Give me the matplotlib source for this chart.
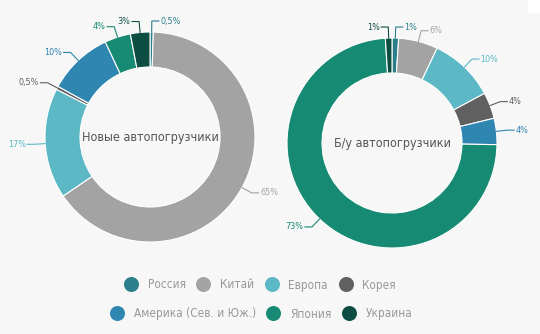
import numpy as np
import matplotlib.pyplot as plt
from matplotlib.lines import Line2D
from matplotlib.patches import Rectangle
from matplotlib import font_manager

# pick a narrow font if one is installed, else Roboto
fl = font_manager.fontManager.ttflist
stretch = 'normal'
if any(f.name == 'Liberation Sans Narrow' for f in fl):
    fam = 'Liberation Sans Narrow'
elif any(f.name == 'DejaVu Sans' and f.stretch == 'condensed' for f in fl):
    fam = 'DejaVu Sans'
    stretch = 'condensed'
else:
    fam = 'Roboto'
plt.rcParams['font.family'] = [fam, 'DejaVu Sans']
plt.rcParams['font.stretch'] = stretch

# data
countries = ['Россия', 'Китай', 'Европа', 'Корея', 'Америка (Сев. и Юж.)', 'Япония', 'Украина']
colors = ['#2a7f8a', '#a3a3a3', '#5cb8c4', '#606060', '#2e86b1', '#168a72', '#0e4e42']
new_share = [0.5, 65, 17, 0.5, 10, 4, 3]
used_share = [1, 6, 10, 4, 4, 73, 1]
titles = ['Новые автопогрузчики', 'Б/у автопогрузчики']

bg = '#f7f7f7'
fig = plt.figure(figsize=(5.4, 3.34), dpi=100, facecolor=bg)
ax = fig.add_axes([0, 0, 1, 1])
ax.set_facecolor(bg)

R = 105
W = 35
centers = [(150, 197), (392, 191)]


def donut(vals, center, title):
    wedges, _ = ax.pie(vals, colors=colors, startangle=90, counterclock=False,
                       center=center, radius=R,
                       wedgeprops=dict(width=W, edgecolor='white', linewidth=0.8))
    for w, v, c in zip(wedges, vals, colors):
        a = np.deg2rad((w.theta1 + w.theta2) / 2)
        x0 = center[0] + R * np.cos(a)
        y0 = center[1] + R * np.sin(a)
        x1 = center[0] + (R + 11) * np.cos(a)
        y1 = center[1] + (R + 11) * np.sin(a)
        s = 1 if np.cos(a) >= 0 else -1
        x2 = x1 + s * 7
        ax.plot([x0, x1, x2], [y0, y1, y1], color=c, lw=0.8)
        lab = f'{v:g}%'.replace('.', ',')
        ax.text(x2 + s * 1.5, y1, lab, color=c, fontsize=6.5,
                ha='left' if s > 0 else 'right', va='center')
    ax.text(center[0], center[1] - 1, title, ha='center', va='center',
            fontsize=9, color='#555555')


donut(new_share, centers[0], titles[0])
donut(used_share, centers[1], titles[1])

ax.set_xlim(0, 540)
ax.set_ylim(0, 334)
ax.set_aspect('equal')
ax.axis('off')

fig.patches.append(Rectangle((528 / 540, 322 / 334), 12 / 540, 12 / 334,
                             transform=fig.transFigure, color='white', zorder=0))

handles = [Line2D([], [], marker='o', ls='none', markersize=10.8, color=c,
                  markeredgewidth=0) for c in colors]
leg_kw = dict(frameon=False, fontsize=8.5, handletextpad=0.8,
              columnspacing=0.9, labelcolor='#999999', handlelength=1.2)
fig.legend(handles[:4], countries[:4], ncol=4, loc='center',
           bbox_to_anchor=(260 / 540, 1 - 285 / 334), **leg_kw)
fig.legend(handles[4:], countries[4:], ncol=3, loc='center',
           bbox_to_anchor=(261 / 540, 1 - 314 / 334), **leg_kw)

fig.savefig('out.png', dpi=100, facecolor=bg)
